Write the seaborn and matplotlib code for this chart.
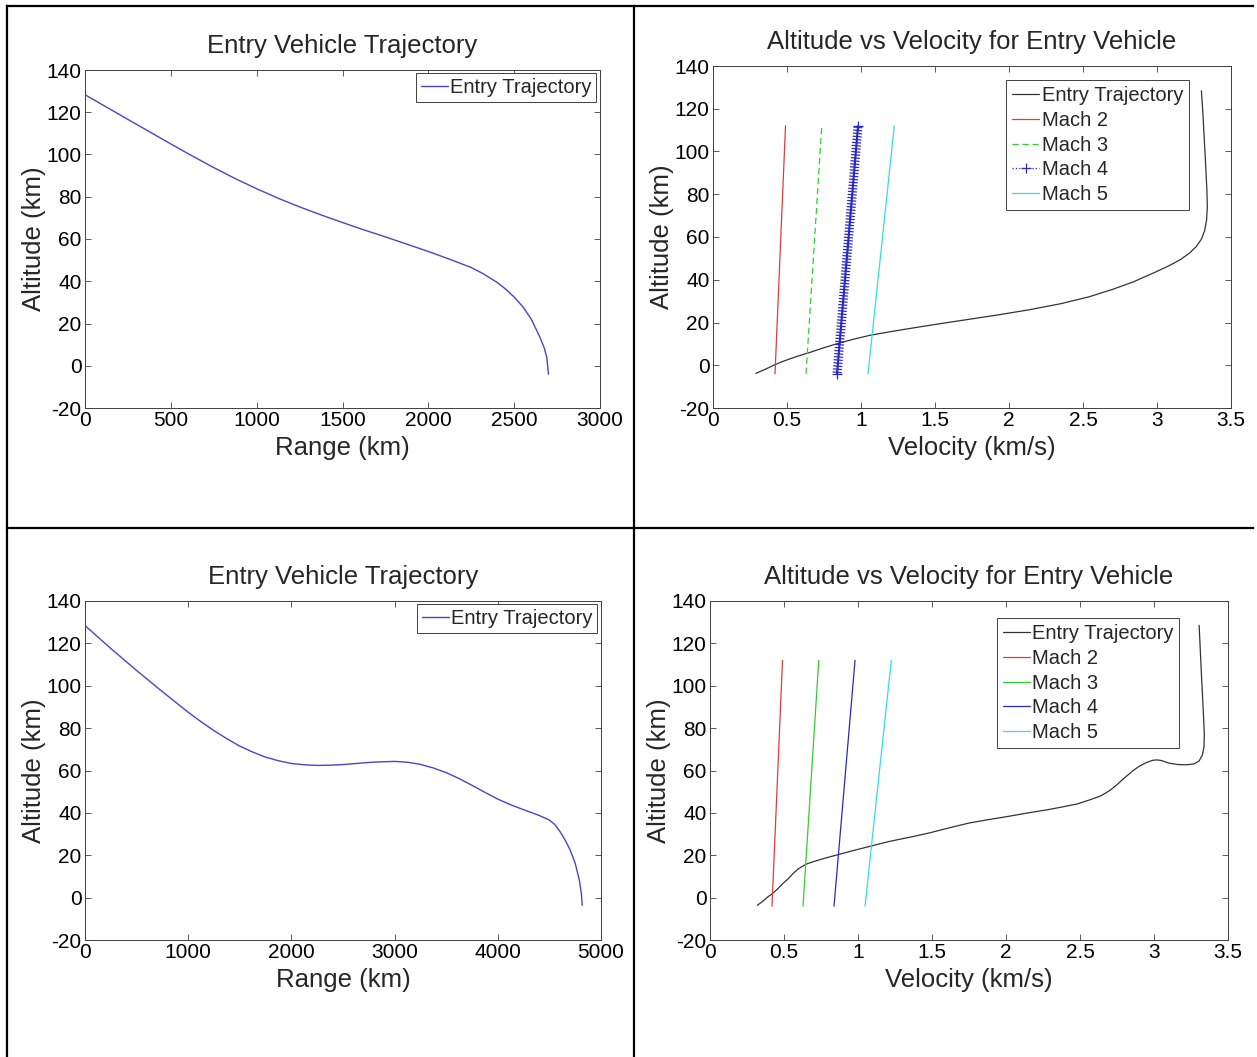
import numpy as np
import matplotlib
matplotlib.use("Agg")
import matplotlib.pyplot as plt
import matplotlib.patheffects as pe
from matplotlib.lines import Line2D
import seaborn as sns

# ---------------- data ----------------
# Case 1: range / altitude
range_1 = [0, 250, 500, 625, 750, 875, 1000, 1125, 1250, 1375, 1500, 1625, 1750,
           2000, 2125, 2250, 2325, 2400, 2450, 2500, 2550, 2600, 2650, 2675, 2690, 2700]
alt_1 = [128.3, 116.6, 105.0, 99.3, 93.8, 88.6, 83.8, 79.3, 75.2, 71.4, 67.8, 64.3, 61.0,
         54.1, 50.4, 46.5, 43.3, 39.5, 36.3, 32.5, 28.0, 22.0, 13.5, 8.5, 4.0, -4.0]

# Case 1: velocity / altitude
vel_1 = [3.300, 3.310, 3.320, 3.330, 3.337, 3.340, 3.335, 3.322, 3.300, 3.265,
         3.22, 3.16, 3.08, 2.98, 2.84, 2.70, 2.54, 2.35, 2.14, 1.94, 1.73,
         1.53, 1.33, 1.19, 1.06, 0.95, 0.84, 0.74, 0.655, 0.58, 0.52, 0.46,
         0.41, 0.35, 0.29]
valt_1 = [128.4, 118, 105, 92, 82, 74, 68, 63, 59, 55.5,
          52.5, 49.5, 46.5, 43.3, 39, 35.5, 32, 28.8, 26, 23.7, 21.5,
          19.4, 17.2, 15.6, 14, 12.2, 10.1, 8, 6, 4.4, 3, 1.5,
          0, -2, -3.8]

# Case 2: range / altitude
range_2 = [0, 250, 500, 750, 1000, 1125, 1250, 1375, 1500, 1625, 1750, 1875,
           2000, 2125, 2250, 2375, 2500, 2625, 2750, 2875, 3000, 3125, 3250,
           3375, 3500, 3625, 3750, 3875, 4000, 4125, 4250, 4400, 4500, 4550,
           4600, 4650, 4700, 4750, 4790, 4810, 4818]
alt_2 = [128.4, 117.6, 107.2, 97.2, 87.5, 83.0, 78.8, 75.0, 71.5, 68.7, 66.3, 64.6,
         63.3, 62.7, 62.4, 62.5, 62.8, 63.3, 63.8, 64.1, 64.3, 63.9, 62.9,
         61.2, 59.0, 56.2, 53.0, 49.7, 46.5, 43.8, 41.5, 38.8, 36.6, 34.6,
         31.4, 27.4, 22.6, 16.2, 8.3, 1.9, -3.6]

# Case 2: velocity / altitude
vel_2 = [3.305, 3.312, 3.320, 3.328, 3.335, 3.340, 3.338, 3.328, 3.305, 3.27,
         3.22, 3.16, 3.10, 3.05, 3.02, 2.99, 2.95, 2.90, 2.86, 2.80, 2.75,
         2.70, 2.64, 2.56, 2.48, 2.38, 2.29, 2.15, 2.02, 1.88, 1.75, 1.62,
         1.48, 1.35, 1.21, 1.08, 0.94, 0.85, 0.76, 0.70, 0.65, 0.62, 0.595,
         0.56, 0.53, 0.49, 0.46, 0.42, 0.39, 0.355, 0.32]
valt_2 = [128.5, 118, 106, 95, 85, 77, 71.5, 67.5, 64.5, 63.1,
          62.7, 62.8, 63.5, 64.7, 65, 64.8, 63.8, 62, 60, 56.5, 53.3,
          50.5, 48, 46, 44.2, 42.8, 41.6, 40, 38.4, 36.8, 35.2, 33,
          30.5, 28.5, 26.5, 24.2, 21.7, 20, 18.3, 17, 15.8, 14.6, 13.5,
          11.3, 9, 6.5, 4.3, 1.8, 0.3, -1.8, -3.6]

# Mach lines: speed of sound (km/s) at the two end altitudes (km)
mach_numbers = [2, 3, 4, 5]
mach_alt = [-4, 112]
sound_speed = [0.2095, 0.2450]

range_ticks_1 = [0, 500, 1000, 1500, 2000, 2500, 3000]
range_ticks_2 = [0, 1000, 2000, 3000, 4000, 5000]
vel_ticks = [0, 0.5, 1, 1.5, 2, 2.5, 3, 3.5]
vel_ticklabels = ["0", "0.5", "1", "1.5", "2", "2.5", "3", "3.5"]
alt_ticks = [-20, 0, 20, 40, 60, 80, 100, 120, 140]

title_range = "Entry Vehicle Trajectory"
title_vel = "Altitude vs Velocity for Entry Vehicle"

# ---------------- style ----------------
sns.set_theme(style="white")
plt.rcParams["font.family"] = ["Liberation Sans", "DejaVu Sans"]
plt.rcParams.update({
    "axes.edgecolor": "#404040",
    "axes.linewidth": 0.7,
    "xtick.direction": "in",
    "ytick.direction": "in",
    "xtick.top": True,
    "ytick.right": True,
    "xtick.bottom": True,
    "ytick.left": True,
    "xtick.major.size": 4,
    "ytick.major.size": 4,
    "xtick.major.width": 0.6,
    "ytick.major.width": 0.6,
    "xtick.color": "#404040",
    "ytick.color": "#404040",
    "xtick.labelcolor": "black",
    "ytick.labelcolor": "black",
    "xtick.major.pad": 2.5,
    "ytick.major.pad": 2.5,
    "axes.grid": False,
})

W, H = 1257, 1057
fig = plt.figure(figsize=(W / 100, H / 100), dpi=100)
fig.patch.set_facecolor("white")


def px_axes(x0, x1, y0, y1):
    return fig.add_axes([x0 / W, 1 - y1 / H, (x1 - x0) / W, (y1 - y0) / H])


TICK_FS = 15
LABEL_FS = 18.5
TITLE_FS = 18.5
LEG_FS = 14.5

BLUE = "#4646cc"
MBLUE = "#2828c8"
BLACK = "#333333"
RED = "#e03c3c"
GREEN = "#30d030"
CYAN = "#30e0e0"


def finish(ax, xlim, xticks, xticklabels, xlabel, title, tpad):
    ax.set_xlim(*xlim)
    ax.set_ylim(-20, 140)
    ax.set_xticks(xticks)
    ax.set_xticklabels(xticklabels, fontsize=TICK_FS)
    ax.set_yticks(alt_ticks)
    ax.set_yticklabels([str(t) for t in alt_ticks], fontsize=TICK_FS)
    ax.set_xlabel(xlabel, fontsize=LABEL_FS, labelpad=4)
    ax.set_ylabel("Altitude (km)", fontsize=LABEL_FS, labelpad=0)
    ax.set_title(title, fontsize=TITLE_FS, pad=tpad)
    for s in ax.spines.values():
        s.set_visible(True)


def range_panel(ax, r, a, xlim, xticks):
    sns.lineplot(x=r, y=a, sort=False, estimator=None, ax=ax, color=BLUE,
                 linewidth=1.0, label="Entry Trajectory")
    finish(ax, xlim, xticks, [str(t) for t in xticks], "Range (km)", title_range, 12)
    ax.legend(loc="upper right", bbox_to_anchor=(0.993, 0.99), fontsize=LEG_FS,
              handlelength=1.35, handletextpad=0.1, borderpad=0.25,
              borderaxespad=0, fancybox=False, framealpha=1,
              edgecolor="#404040", labelspacing=0.2)
    ax.get_legend().get_frame().set_linewidth(0.7)


def vel_panel(ax, v, a, dashed_style, anchor):
    sns.lineplot(x=v, y=a, sort=False, estimator=None, ax=ax, color=BLACK,
                 linewidth=0.9, label="Entry Trajectory")
    colors = [RED, GREEN, MBLUE, CYAN]
    for m, c in zip(mach_numbers, colors):
        mv = [m * s for s in sound_speed]
        kw = dict(linestyle="-")
        if dashed_style and m == 3:
            kw = dict(linestyle=(0, (5, 3)))
        if dashed_style and m == 4:
            kw = dict(linestyle=":", marker="+", markersize=7,
                      markeredgecolor=c, markeredgewidth=0.9)
            # dense "+" chain drawn by path effects along the same line
            sns.lineplot(x=mv, y=mach_alt, sort=False, estimator=None, ax=ax,
                         color=c, linewidth=1.5,
                         path_effects=[pe.TickedStroke(spacing=2.2, angle=90, length=1.35,
                                                       linewidth=0.9),
                                       pe.TickedStroke(spacing=2.2, angle=-90, length=1.35,
                                                       linewidth=0.9),
                                       pe.Normal()])
        sns.lineplot(x=mv, y=mach_alt, sort=False, estimator=None, ax=ax,
                     color=c, linewidth=0.9, label=f"Mach {m}", **kw)
    finish(ax, (0, 3.5), vel_ticks, vel_ticklabels, "Velocity (km/s)", title_vel, 12)
    ax.legend(loc="upper right", bbox_to_anchor=anchor, fontsize=LEG_FS,
              handlelength=1.35, handletextpad=0.1, borderpad=0.3,
              borderaxespad=0, fancybox=False, framealpha=1,
              edgecolor="#404040", labelspacing=0.28)
    ax.get_legend().get_frame().set_linewidth(0.7)


ax1 = px_axes(85, 600, 70, 408)
range_panel(ax1, range_1, alt_1, (0, 3000), range_ticks_1)

ax2 = px_axes(713, 1231, 66, 408)
vel_panel(ax2, vel_1, valt_1, True, (0.919, 0.958))

ax3 = px_axes(85, 601, 601, 940)
range_panel(ax3, range_2, alt_2, (0, 5000), range_ticks_2)

ax4 = px_axes(710, 1228, 601, 940)
vel_panel(ax4, vel_2, valt_2, False, (0.906, 0.949))

# table-like border lines
def fline(x0, y0, x1, y1):
    fig.add_artist(Line2D([x0 / W, x1 / W], [1 - y0 / H, 1 - y1 / H],
                          transform=fig.transFigure, color="black", linewidth=1.6,
                          solid_capstyle="projecting"))

fline(7, 6, 1253, 6)
fline(7, 6, 7, 1057)
fline(634, 6, 634, 1057)
fline(7, 528, 1253, 528)

fig.savefig("out.png", dpi=100, facecolor="white")
